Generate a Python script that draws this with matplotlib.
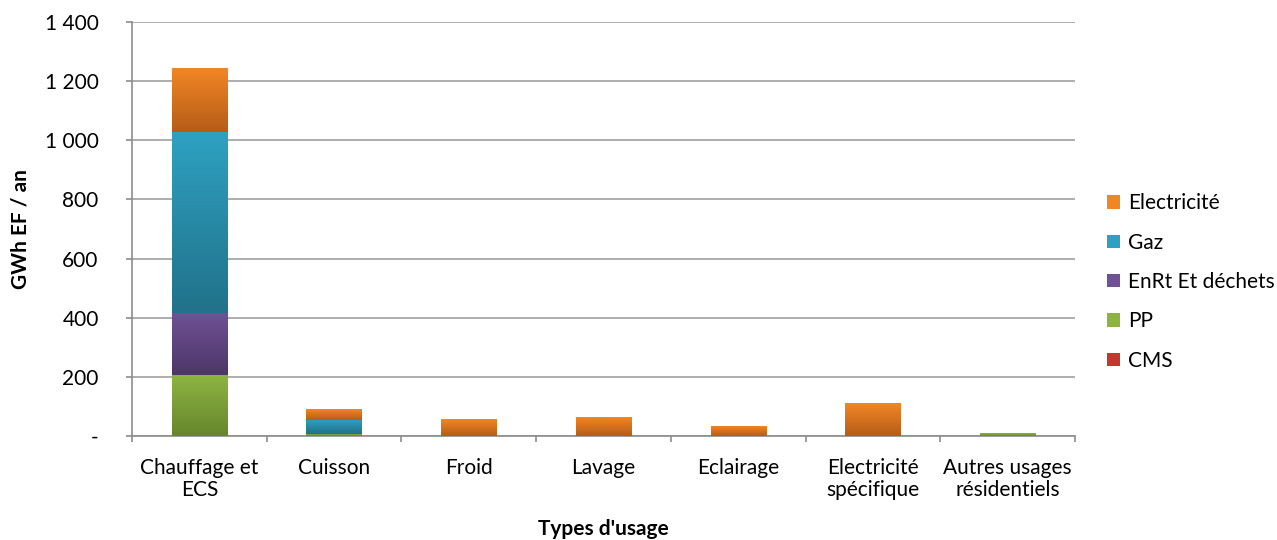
import numpy as np
import matplotlib
matplotlib.use("Agg")
import matplotlib.pyplot as plt
from matplotlib.colors import LinearSegmentedColormap
from matplotlib.patches import Patch
from matplotlib.ticker import FuncFormatter

plt.rcParams['font.family'] = ['Lato', 'DejaVu Sans']

# --- Données ---
categories = ["Chauffage et\nECS", "Cuisson", "Froid", "Lavage", "Eclairage",
              "Electricité\nspécifique", "Autres usages\nrésidentiels"]
cms = [0, 0, 0, 0, 0, 0, 0]
pp = [206, 7, 0, 0, 0, 0, 8]
enrt = [210, 0, 0, 0, 0, 0, 0]
gaz = [613, 48, 0, 0, 0, 0, 0]
elec = [215, 36, 56, 63, 32, 110, 0]

series = [
    ("CMS", cms, "#c0392f", "#8c2a22"),
    ("PP", pp, "#8db441", "#67862d"),
    ("EnRt Et déchets", enrt, "#705195", "#4d3668"),
    ("Gaz", gaz, "#2ea1c2", "#21728a"),
    ("Electricité", elec, "#f18625", "#b65c18"),
]

fs = 15

fig = plt.figure(figsize=(12.77, 5.40), dpi=100)
ax = fig.add_axes([132 / 1277, 1 - 436 / 540, (1075 - 132) / 1277, (436 - 22) / 540])

x = np.arange(len(categories))
width = 0.41
bottom = np.zeros(len(categories))

# --- Barres empilées avec dégradé (style Excel) ---
for name, vals, top_col, bot_col in series:
    vals = np.array(vals, dtype=float)
    cmap = LinearSegmentedColormap.from_list(name, [bot_col, top_col])
    bars = ax.bar(x, vals, width, bottom=bottom, color="none", edgecolor="none", zorder=3)
    for rect in bars:
        h = rect.get_height()
        if h <= 0:
            continue
        x0 = rect.get_x()
        y0 = rect.get_y()
        grad = np.linspace(0, 1, 64).reshape(-1, 1)
        ax.imshow(grad, extent=[x0, x0 + rect.get_width(), y0, y0 + h], origin="lower",
                  aspect="auto", cmap=cmap, zorder=3, interpolation="bicubic")
    bottom += vals

ax.set_xlim(-0.5, len(categories) - 0.5)
ax.set_ylim(0, 1400)
ax.set_yticks(np.arange(0, 1401, 200))
ax.yaxis.set_major_formatter(FuncFormatter(lambda v, p: "-" if v == 0 else f"{int(v):,}".replace(",", " ")))
ax.grid(axis="y", color="#a0a0a0", linewidth=1.2, zorder=0)
ax.set_axisbelow(True)

ax.set_xticks(x)
ax.set_xticklabels(categories, fontsize=fs, linespacing=1.15)
ax.set_xticks(np.arange(-0.5, len(categories)), minor=True)
ax.tick_params(axis="x", which="major", length=0, pad=15.5)
ax.tick_params(axis="x", which="minor", length=4, width=1.2, color="#8c8c8c")
ax.tick_params(axis="y", length=4, width=1.2, color="#8c8c8c", labelsize=fs, pad=20)

for side in ["top", "right"]:
    ax.spines[side].set_visible(False)
for side in ["left", "bottom"]:
    ax.spines[side].set_color("#8c8c8c")
    ax.spines[side].set_linewidth(1.2)

ax.set_xlabel("Types d'usage", fontsize=fs, fontweight="bold", labelpad=14)
ax.set_ylabel("GWh EF / an", fontsize=fs, fontweight="bold", labelpad=10)

# --- Légende ---
handles = [Patch(facecolor=top_col, label=name) for name, _, top_col, _ in series[::-1]]
fig.legend(handles=handles, loc="center left", bbox_to_anchor=(1099 / 1277, 1 - 282 / 540),
           frameon=False, fontsize=fs, labelspacing=0.93, handlelength=0.6,
           handleheight=0.6, handletextpad=0.4, borderaxespad=0)

fig.savefig("out.png", dpi=100)
